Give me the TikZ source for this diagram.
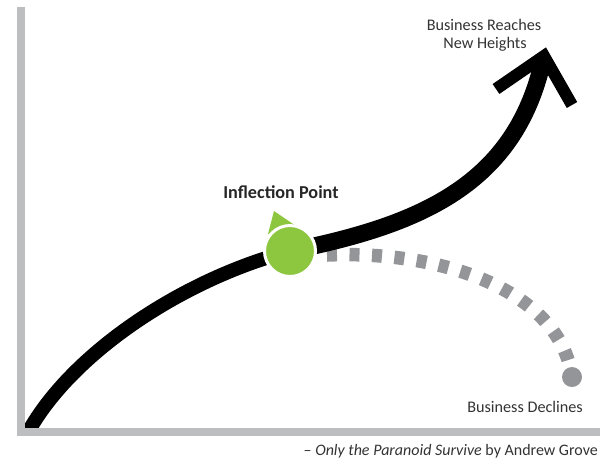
\documentclass[tikz,border=0pt]{standalone}
\usepackage{fontspec}
\setmainfont{Carlito}
\definecolor{axisgray}{HTML}{BCBEC0}
\definecolor{dashgray}{HTML}{939598}
\definecolor{igreen}{HTML}{8DC63F}
\definecolor{txtgray}{HTML}{333333}
\begin{document}
\begin{tikzpicture}[x=1pt,y=-1pt,
  lbl/.style={font=\fontsize{16.2}{19}\selectfont, text=txtgray, inner sep=0pt},
  axisline/.style={axisgray, line width=8pt},
  growth/.style={black, line width=#1},
  decline/.style={dashgray, line width=13.5pt, dash pattern=on 10pt off 12.5pt}]
\useasboundingbox (0,0) rectangle (605,459);
% decline (dashed)
\coordinate (ds) at (327,255);
\node[circle, fill=dashgray, minimum size=20pt, inner sep=0pt] (dec) at (572,377) {};
\draw[decline] (ds) .. controls (445,250) and (560,292) .. (dec.center);
% growth curve, lower part
\coordinate (g0) at (26,436);
\coordinate (ipc) at (290,251);
\begin{scope}
\clip (21,0) rectangle (605,432);
\draw[growth=14pt] (g0) .. controls (68,356) and (180,280) .. (ipc);
\end{scope}
% growth curve, upper part
\coordinate (v) at (544,56);
\coordinate (la) at (496,89);
\coordinate (ra) at (572,105);
\coordinate (g1) at (543,60);
\draw[growth=17pt] (ipc) .. controls (420,225) and (515,185) .. (g1);
\draw[growth=12pt, miter limit=10] (la) -- (v) -- (ra);
% axes
\coordinate (top) at (21,7);
\coordinate (org) at (17,432);
\coordinate (xe) at (600,432);
\draw[axisline] (top) -- (21,432);
\draw[axisline] (org) -- (xe);
% inflection point
\fill[igreen] (274,211) -- (268,234) -- (296,226) -- cycle;
\node[circle, fill=igreen, draw=white, line width=3pt, minimum size=51pt, inner sep=0pt] (ip) at (ipc) {};
% labels
\node[lbl, anchor=base] (up1) at (484,30.7) {Business Reaches};
\node[lbl, anchor=base] (up2) at (485,48) {New Heights};
\node[lbl, anchor=base, font=\fontsize{18.2}{21}\selectfont\bfseries, text=black!85] (ipl) at (281,198.3) {Inflection Point};
\node[lbl, anchor=base east] (down) at (583,412.7) {Business Declines};
\node[lbl, anchor=base east, font=\fontsize{16}{19}\selectfont] (cap) at (598,455) {– \textit{Only the Paranoid Survive} by Andrew Grove};
\end{tikzpicture}
\end{document}
